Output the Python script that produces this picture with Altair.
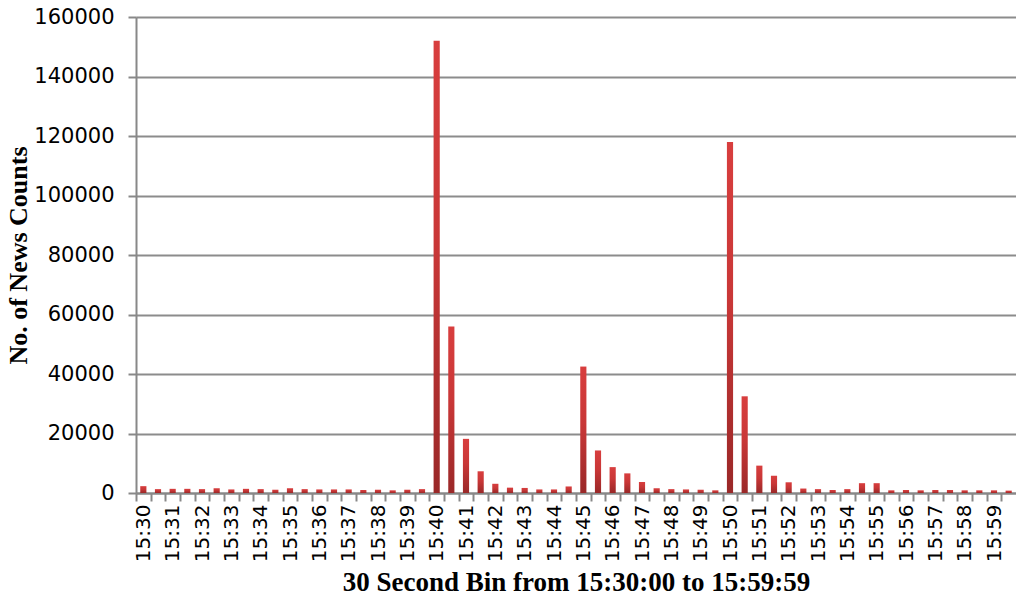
import altair as alt
import pandas as pd

bins = [
    "15:30:00", "15:30:30", "15:31:00", "15:31:30", "15:32:00", "15:32:30",
    "15:33:00", "15:33:30", "15:34:00", "15:34:30", "15:35:00", "15:35:30",
    "15:36:00", "15:36:30", "15:37:00", "15:37:30", "15:38:00", "15:38:30",
    "15:39:00", "15:39:30", "15:40:00", "15:40:30", "15:41:00", "15:41:30",
    "15:42:00", "15:42:30", "15:43:00", "15:43:30", "15:44:00", "15:44:30",
    "15:45:00", "15:45:30", "15:46:00", "15:46:30", "15:47:00", "15:47:30",
    "15:48:00", "15:48:30", "15:49:00", "15:49:30", "15:50:00", "15:50:30",
    "15:51:00", "15:51:30", "15:52:00", "15:52:30", "15:53:00", "15:53:30",
    "15:54:00", "15:54:30", "15:55:00", "15:55:30", "15:56:00", "15:56:30",
    "15:57:00", "15:57:30", "15:58:00", "15:58:30", "15:59:00", "15:59:30",
]

counts = [
    2300, 1300, 1400, 1400, 1300, 1600,
    1200, 1400, 1300, 1100, 1600, 1300,
    1200, 1200, 1200, 1000, 1100, 900,
    1100, 1300, 152000, 56000, 18200, 7300,
    3100, 1800, 1700, 1200, 1200, 2200,
    42500, 14300, 8700, 6600, 3700, 1600,
    1300, 1200, 1100, 900, 118000, 32500,
    9200, 5800, 3600, 1500, 1300, 1000,
    1300, 3300, 3300, 900, 1000, 900,
    1000, 1000, 900, 900, 900, 800,
]

df = pd.DataFrame({"slot": bins, "count": counts})

PLOT_W = 880
STEP = PLOT_W / len(bins)

bar_fill = alt.Gradient(
    gradient="linear",
    x1=0, x2=0, y1=0, y2=1,
    stops=[
        alt.GradientStop(color="#d83e3e", offset=0),
        alt.GradientStop(color="#c93737", offset=0.45),
        alt.GradientStop(color="#9a2828", offset=1),
    ],
)

chart = (
    alt.Chart(df)
    .mark_bar(fill=bar_fill)
    .encode(
        x=alt.X(
            "slot:N",
            sort=bins,
            scale=alt.Scale(paddingInner=0.58, paddingOuter=0.29),
            axis=alt.Axis(
                title="30 Second Bin from 15:30:00 to 15:59:59",
                titleFont="Liberation Serif",
                titleFontSize=27,
                titleFontWeight="bold",
                titleColor="#000000",
                titlePadding=8,
                labelAngle=270,
                labelFont="DejaVu Sans",
                labelFontSize=20,
                labelColor="#000000",
                labelPadding=3,
                labelExpr="slice(datum.value, 6) == '00' ? slice(datum.value, 0, 5) : ''",
                labelOverlap=False,
                tickOffset=-STEP / 2,
                labelOffset=STEP / 2,
                tickSize=8,
                tickColor="#888888",
                tickWidth=2,
                domainColor="#888888",
                domainWidth=2,
                grid=False,
            ),
        ),
        y=alt.Y(
            "count:Q",
            scale=alt.Scale(domain=[0, 160000], nice=False),
            axis=alt.Axis(
                title="No. of News Counts",
                titleFont="Liberation Serif",
                titleFontSize=26,
                titleFontWeight="bold",
                titleColor="#000000",
                titlePadding=2,
                values=[0, 20000, 40000, 60000, 80000, 100000, 120000, 140000, 160000],
                format="d",
                labelFont="DejaVu Sans",
                labelFontSize=21,
                labelColor="#000000",
                labelPadding=14,
                tickSize=8,
                tickColor="#888888",
                tickWidth=2,
                domainColor="#888888",
                domainWidth=2,
                grid=True,
                gridColor="#8c8c8c",
                gridWidth=2,
            ),
        ),
    )
    .properties(
        width=PLOT_W,
        height=476,
        autosize=alt.AutoSizeParams(type="none"),
        padding={"left": 128, "top": 9, "right": 0, "bottom": 103},
    )
    .configure_view(stroke=None)
    .configure(background="#ffffff")
)

chart.save("out.html", embed_options={"renderer": "svg", "actions": False})
